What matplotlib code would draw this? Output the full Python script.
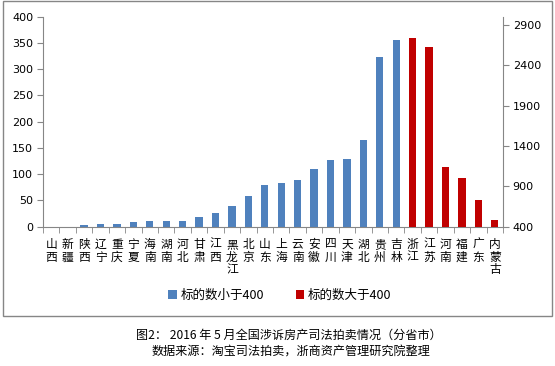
import matplotlib
matplotlib.use('Agg')
import matplotlib.pyplot as plt
from matplotlib.patches import Rectangle
import numpy as np

plt.rcParams['font.family'] = ['DejaVu Sans', 'Noto Sans CJK SC']

# 标的数小于400 (左轴)
low_names = ['山西', '新疆', '陕西', '辽宁', '重庆', '宁夏', '海南', '湖南', '河北', '甘肃',
             '江西', '黑龙江', '北京', '山东', '上海', '云南', '安徽', '四川', '天津', '湖北',
             '贵州', '吉林']
low_vals = [0, 0, 3, 5, 5, 8, 10, 11, 11, 19,
            27, 39, 58, 79, 84, 88, 110, 127, 129, 165,
            323, 356]
# 标的数大于400 (右轴)
high_names = ['浙江', '江苏', '河南', '福建', '广东', '内蒙古']
high_vals = [2740, 2620, 1145, 1005, 730, 485]

left_ticks = np.arange(0, 401, 50)
right_ticks = np.arange(400, 2901, 500)

blue = '#4F81BD'
red = '#C00000'
grey = '#868686'

names = low_names + high_names
n = len(names)
x_low = np.arange(len(low_names))
x_high = np.arange(len(low_names), n)

fig = plt.figure(figsize=(5.55, 3.66), dpi=100)
fig.patches.append(Rectangle((3 / 555, 1 - 316 / 366), 549 / 555, 315 / 366,
                             transform=fig.transFigure, fill=False,
                             edgecolor=grey, lw=1))

ax = fig.add_axes([43 / 555, 1 - 226.7 / 366, 460 / 555, 210 / 366])
ax2 = ax.twinx()

w = 0.44
b1 = ax.bar(x_low, low_vals, width=w, color=blue, label='标的数小于400')
b2 = ax2.bar(x_high, np.array(high_vals) - 400, bottom=400, width=w, color=red,
             label='标的数大于400')

ax.set_xlim(-0.5, n - 0.5)
ax.set_ylim(0, 400)
ax2.set_ylim(400, 3000)
ax.set_yticks(left_ticks)
ax2.set_yticks(right_ticks)

for a in (ax, ax2):
    for s in a.spines.values():
        s.set_visible(False)
ax.spines['left'].set_visible(True)
ax.spines['left'].set_color(grey)
ax.spines['bottom'].set_visible(True)
ax.spines['bottom'].set_color(grey)
ax2.spines['right'].set_visible(True)
ax2.spines['right'].set_color(grey)

ax.tick_params(axis='y', length=4, color=grey, labelsize=8, pad=3)
ax2.tick_params(axis='y', length=4, color=grey, labelsize=8, pad=3)

ax.set_xticks(np.arange(n))
ax.set_xticklabels(['\n'.join(s) for s in names], fontsize=8.5,
                   family=['Noto Sans CJK SC'], linespacing=0.98, va='top')
ax.tick_params(axis='x', which='major', length=0, pad=8)
ax.set_xticks(np.arange(-0.5, n, 1), minor=True)
ax.tick_params(axis='x', which='minor', length=4, color=grey)

fig.legend([b1, b2], ['标的数小于400', '标的数大于400'], loc='center',
           bbox_to_anchor=(280 / 555, 1 - 295 / 366), ncol=2, frameon=False,
           handlelength=0.7, handleheight=0.7, handletextpad=0.3,
           columnspacing=2.5, prop={'family': ['Noto Sans CJK SC'], 'size': 9})

fig.text(136 / 555, 1 - 335 / 366, '图2： 2016 年 5 月全国涉诉房产司法拍卖情况（分省市）',
         fontsize=8.7, family=['Noto Sans CJK SC'], va='center', ha='left')
fig.text(152 / 555, 1 - 352 / 366, '数据来源：淘宝司法拍卖，浙商资产管理研究院整理',
         fontsize=8.7, family=['Noto Sans CJK SC'], va='center', ha='left')

fig.savefig('out.png', dpi=100)
